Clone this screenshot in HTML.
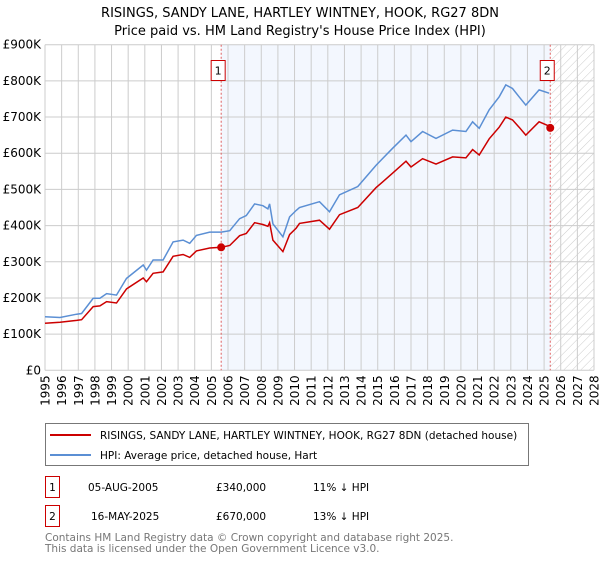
<!DOCTYPE html>
<html><head><meta charset="utf-8"><style>
body{margin:0;background:#fff;font-family:"Liberation Sans","DejaVu Sans",sans-serif;}
</style></head><body>
<svg width="600" height="560" xmlns="http://www.w3.org/2000/svg" font-family="DejaVu Sans, Liberation Sans, sans-serif">
<defs>
<pattern id="hatch" width="6" height="6" patternUnits="userSpaceOnUse" patternTransform="rotate(45)">
<line x1="0" y1="0" x2="0" y2="6" stroke="#ccc" stroke-width="1"/>
</pattern>
</defs>
<text x="300" y="17" text-anchor="middle" font-size="13" fill="#000">RISINGS, SANDY LANE, HARTLEY WINTNEY, HOOK, RG27 8DN</text>
<text x="300" y="35" text-anchor="middle" font-size="13" fill="#000">Price paid vs. HM Land Registry's House Price Index (HPI)</text>
<g id="plot"></g>
<g id="legend">
<rect x="45.5" y="423.5" width="483" height="42" fill="#fff" stroke="#777"/>
<line x1="50" y1="435" x2="91" y2="435" stroke="#cc0000" stroke-width="2"/>
<text x="100" y="439" font-size="10.5">RISINGS, SANDY LANE, HARTLEY WINTNEY, HOOK, RG27 8DN (detached house)</text>
<line x1="50" y1="455" x2="91" y2="455" stroke="#5b8fd4" stroke-width="2"/>
<text x="100" y="459" font-size="10.5">HPI: Average price, detached house, Hart</text>
</g>
<g font-size="10.5">
<rect x="45.5" y="476.5" width="14" height="21" fill="#fff" stroke="#cc0000"/>
<text x="52.5" y="491" text-anchor="middle">1</text>
<text x="88" y="491">05-AUG-2005</text>
<text x="216" y="491">£340,000</text>
<text x="313" y="491">11% ↓ HPI</text>
<rect x="45.5" y="505.5" width="14" height="21" fill="#fff" stroke="#cc0000"/>
<text x="52.5" y="520" text-anchor="middle">2</text>
<text x="91" y="520">16-MAY-2025</text>
<text x="216" y="520">£670,000</text>
<text x="313" y="520">13% ↓ HPI</text>
</g>
<text x="45" y="541" font-size="10.5" fill="#777">Contains HM Land Registry data © Crown copyright and database right 2025.</text>
<text x="45" y="552" font-size="10.5" fill="#777">This data is licensed under the Open Government Licence v3.0.</text>
</svg>
<script>
const hpiYears=[1995,1995.9,1996.9,1997.2,1997.9,1998.3,1998.7,1999.3,1999.9,2000.9,2001.1,2001.5,2002.1,2002.7,2003.3,2003.7,2004.1,2004.9,2005.6,2006.1,2006.7,2007.1,2007.6,2008.1,2008.4,2008.5,2008.7,2009.3,2009.7,2010.1,2010.3,2011.5,2012.1,2012.7,2013.8,2014.9,2015.9,2016.7,2017,2017.7,2018.5,2019.5,2020.3,2020.7,2021.1,2021.7,2022.3,2022.7,2023.1,2023.5,2023.9,2024.7,2025.3];
const hpiValues=[148,146,155,157,199,199,212,208,254,291,277,305,305,355,360,351,373,382,382,386,419,428,460,455,446,460,405,369,424,442,450,466,438,485,508,567,614,650,632,660,641,664,660,687,669,720,756,789,779,756,733,775,766];
const priceValues=[130,133,138,140,176,178,190,186,225,255,245,268,272,315,320,312,330,338,340,345,372,378,408,403,398,408,360,328,375,393,406,415,390,430,450,505,545,578,562,585,570,590,587,610,595,640,672,700,692,672,650,687,675];
const saleYears=[2005.59,2025.37];
const saleValues=[340,670];
const saleLabels=["1","2"];
const yTicks=[0,100,200,300,400,500,600,700,800,900];
const yTickLabels=["£0","£100K","£200K","£300K","£400K","£500K","£600K","£700K","£800K","£900K"];
const xTicks=[1995,1996,1997,1998,1999,2000,2001,2002,2003,2004,2005,2006,2007,2008,2009,2010,2011,2012,2013,2014,2015,2016,2017,2018,2019,2020,2021,2022,2023,2024,2025,2026,2027,2028];

const L=45,R=594,T=44.7,B=370.3,x0=1995,x1=2028,yMax=900;
const X=v=>L+(v-x0)/(x1-x0)*(R-L);
const Y=v=>B-v/yMax*(B-T);
const NS="http://www.w3.org/2000/svg";
const g=document.getElementById('plot');
function mk(t,a,p){const e=document.createElementNS(NS,t);for(const k in a)e.setAttribute(k,a[k]);(p||g).appendChild(e);return e;}

const shade=mk('rect',{x:X(saleYears[0]),y:T,width:X(saleYears[1])-X(saleYears[0]),height:B-T,fill:'#eef3fd',opacity:0.7});


const hat=mk('rect',{x:X(saleYears[1]),y:T,width:R-X(saleYears[1]),height:B-T,fill:'url(#hatch)'});



yTicks.forEach((v,i)=>{
  const ln=mk('line',{x1:L,x2:R,y1:Y(v),y2:Y(v),stroke:'#ccc','stroke-width':1});
  
  
  const t=mk('text',{x:L-4,y:Y(v)+4,'text-anchor':'end','font-size':12});
  t.textContent=yTickLabels[i];
  
  
});
xTicks.forEach(v=>{
  const ln=mk('line',{x1:X(v),x2:X(v),y1:T,y2:B,stroke:'#ccc','stroke-width':1});
  
  
  const t=mk('text',{x:0,y:0,'text-anchor':'end','font-size':12,transform:`translate(${X(v)+4.5},${B+5}) rotate(-90)`});
  t.textContent=v;
  
  
});
function path(xs,vs){return xs.map((x,i)=>(i?'L':'M')+X(x).toFixed(1)+','+Y(vs[i]).toFixed(1)).join('');}
const hp=mk('path',{d:path(hpiYears,hpiValues),fill:'none',stroke:'#5b8fd4','stroke-width':1.5});


const pp=mk('path',{d:path(hpiYears,priceValues),fill:'none',stroke:'#cc0000','stroke-width':1.5});


saleYears.forEach((yr,i)=>{
  const vl=mk('line',{x1:X(yr),x2:X(yr),y1:T,y2:B,stroke:'#e06060','stroke-width':1,'stroke-dasharray':'2,2'});
  
  
  const c=mk('circle',{cx:X(yr),cy:Y(saleValues[i]),r:4,fill:'#cc0000'});
  
  
  const bx=mk('rect',{x:X(yr)-10,y:60.5,width:14,height:20,fill:'#fff',stroke:'#cc0000'});
  
  
  const t=mk('text',{x:X(yr)-3,y:74.5,'text-anchor':'middle','font-size':11});
  t.textContent=saleLabels[i];
  
  
});
</script>
</body></html>
